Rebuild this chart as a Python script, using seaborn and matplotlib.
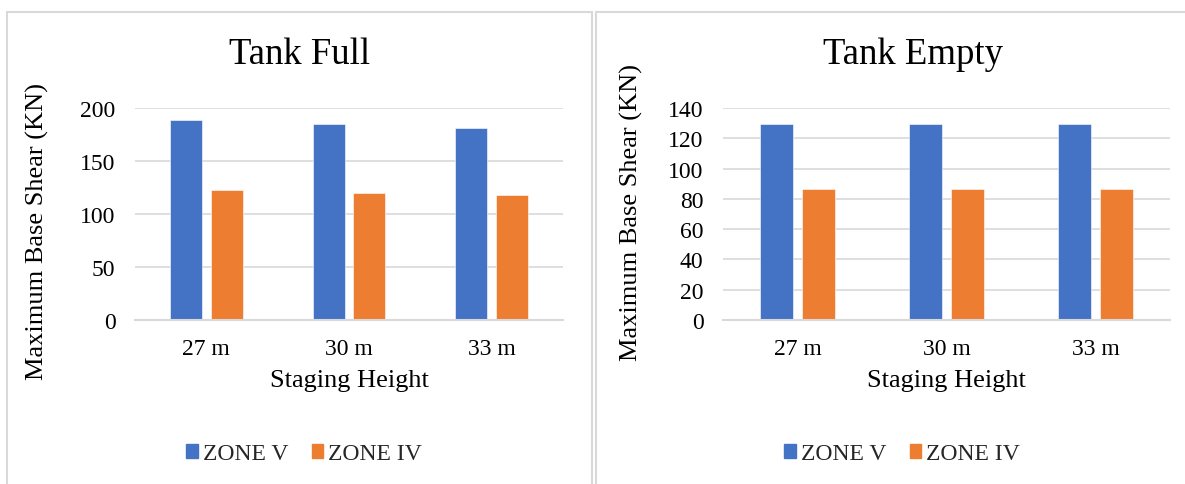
import pandas as pd
import numpy as np
import matplotlib.pyplot as plt
import seaborn as sns
from matplotlib.patches import Rectangle, Patch

# data
heights = ['27 m', '30 m', '33 m']
zones = ['ZONE V', 'ZONE IV']
full_zone_v = [188.7, 184.6, 180.8]
full_zone_iv = [122.6, 119.8, 118.3]
empty_zone_v = [129.5, 129.5, 129.5]
empty_zone_iv = [86.2, 86.2, 86.2]

colors = ['#4472C4', '#ED7D31']
grid_col = '#D9D9D9'

sns.set_style('white')
plt.rcParams['font.family'] = ['Liberation Serif', 'DejaVu Serif']


def make_df(v, iv):
    return pd.DataFrame({
        'height': heights * 2,
        'zone': [zones[0]] * 3 + [zones[1]] * 3,
        'shear': v + iv,
    })


fig = plt.figure(figsize=(11.85, 4.85), dpi=100)

# panel frames
for x0, w in [(7 / 1185, 585 / 1185), (596 / 1185, 640 / 1185)]:
    fig.patches.append(Rectangle((x0, -0.05), w, 1 - 13 / 485 + 0.05,
                                 transform=fig.transFigure, fill=False,
                                 edgecolor=grid_col, linewidth=1.5))

panels = [
    dict(title='Tank Full', df=make_df(full_zone_v, full_zone_iv),
         rect=[135 / 1185, 1 - 321 / 485, 428 / 1185, 212 / 485],
         ymax=200, step=50, title_x=300 / 1185, ylab_xy=(-0.2, 0.42), leg_x=304 / 1185),
    dict(title='Tank Empty', df=make_df(empty_zone_v, empty_zone_iv),
         rect=[723 / 1185, 1 - 321 / 485, 447 / 1185, 212 / 485],
         ymax=140, step=20, title_x=913 / 1185, ylab_xy=(-0.18, 0.51), leg_x=902 / 1185),
]

for p in panels:
    ax = fig.add_axes(p['rect'])
    sns.barplot(data=p['df'], x='height', y='shear', hue='zone', palette=colors,
                saturation=1, width=0.57, gap=0.22, ax=ax, edgecolor='white',
                linewidth=0.4, legend=False)
    ax.set_ylim(0, p['ymax'])
    ax.set_yticks(np.arange(0, p['ymax'] + 1, p['step']))
    ax.set_xlim(-0.5, 2.5)
    ax.grid(axis='y', color=grid_col, linewidth=1.2)
    ax.set_axisbelow(True)
    for s in ['top', 'right', 'left']:
        ax.spines[s].set_visible(False)
    ax.spines['bottom'].set_color(grid_col)
    ax.spines['bottom'].set_linewidth(1.5)
    ax.tick_params(axis='both', length=0, labelsize=17, colors='black')
    ax.tick_params(axis='y', pad=14)
    ax.tick_params(axis='x', pad=13)
    ax.set_xlabel('Staging Height', fontsize=19, labelpad=7, color='black')
    ax.set_ylabel('Maximum Base Shear (KN)', fontsize=19, color='black')
    ax.yaxis.set_label_coords(*p['ylab_xy'])
    fig.text(p['title_x'], 1 - 55 / 485, p['title'], fontsize=26.5,
             ha='center', va='center', color='black')
    handles = [Patch(color=c, label=z) for c, z in zip(colors, zones)]
    fig.legend(handles=handles, loc='center', bbox_to_anchor=(p['leg_x'], 1 - 455 / 485),
               ncol=2, frameon=False, fontsize=17, handlelength=0.5, handleheight=0.5,
               handletextpad=0.2, columnspacing=1.0)

fig.savefig('out.png', dpi=100)
